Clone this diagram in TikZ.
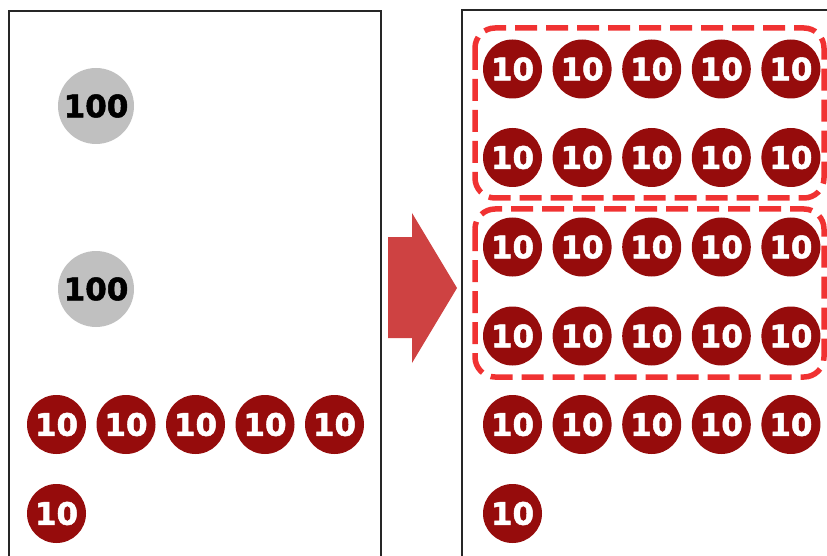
\documentclass[tikz,border=0pt]{standalone}
\usepackage{fontspec}
\newfontfamily\coinfont{DejaVu Sans}[BoldFeatures={FakeBold=1.6}]
\definecolor{coinred}{RGB}{150,12,12}
\definecolor{coingray}{RGB}{192,192,192}
\definecolor{arrowred}{RGB}{206,66,66}
\definecolor{boxred}{RGB}{240,50,50}

\begin{document}
\begin{tikzpicture}[x=1pt,y=-1pt,
  coin100/.style={circle,fill=coingray,minimum size=76pt,inner sep=0pt,
    font=\coinfont\bfseries\fontsize{31}{31}\selectfont},
  coin10/.style={circle,fill=coinred,text=white,minimum size=59pt,inner sep=0pt,
    font=\coinfont\bfseries\fontsize{31}{31}\selectfont},
  groupbox/.style={draw=boxred,line width=5.5pt,dash pattern=on 22pt off 9pt,rounded corners=20pt},
  panel/.style={draw=black!85,line width=1.5pt}]
  \useasboundingbox (0,0) rectangle (827,556);
  \clip (0,0) rectangle (827,556);
  % panels
  \draw[panel] (9,11) rectangle (381,600);
  \draw[panel] (462,10) rectangle (860,600);
  % left: two 100s and six 10s
  \node[coin100] (h1) at (96,106) {100};
  \node[coin100] (h2) at (96,289) {100};
  \foreach \i in {0,...,4}
    \node[coin10] (l\i) at (56.5+69.5*\i,424.5) {10};
  \node[coin10] (l5) at (56.5,513.5) {10};
  % arrow
  \fill[arrowred] (388,237) -- (412,237) -- (412,213) -- (457,288) -- (412,363)
    -- (412,338) -- (388,338) -- cycle;
  % right: 26 tens
  \foreach \y [count=\r] in {69,157.5,247,336,424.5}
    \foreach \i in {0,...,4}
      \node[coin10] (r\r\i) at (512.5+69.6*\i,\y) {10};
  \node[coin10] (r60) at (512.5,513.5) {10};
  % groups of ten
  \draw[groupbox] (475,28) rectangle (824,198);
  \draw[groupbox] (475,209) rectangle (824,377);
\end{tikzpicture}
\end{document}
